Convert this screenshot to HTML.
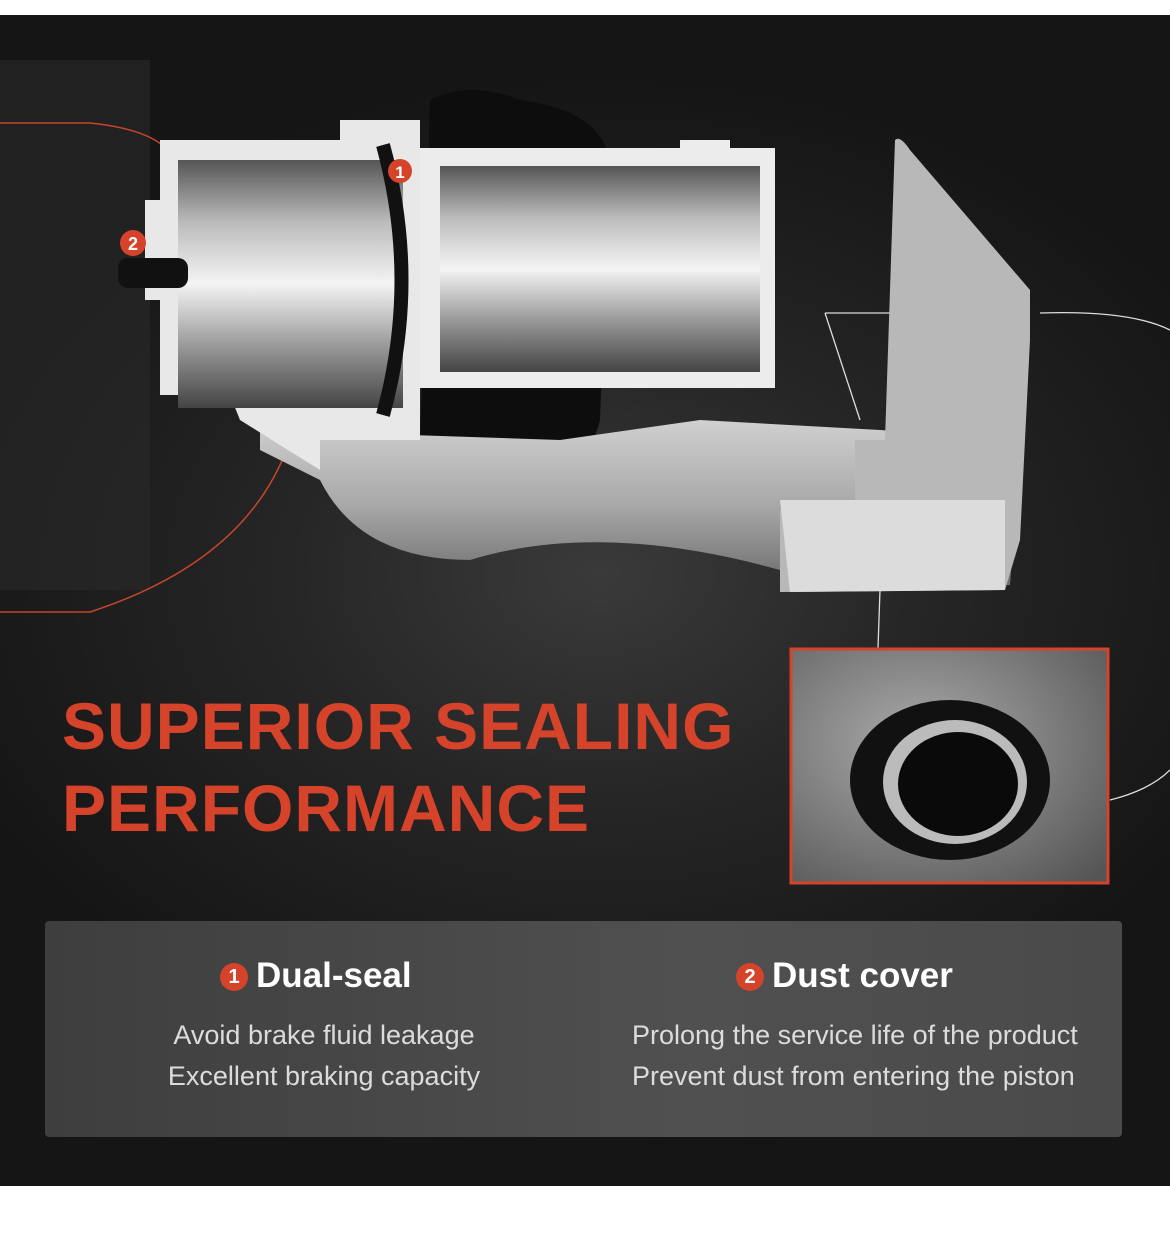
<!DOCTYPE html>
<html><head><meta charset="utf-8"><style>
html,body{margin:0;padding:0;background:#fff;}
#c{position:relative;width:1170px;height:1233px;overflow:hidden;background:#fff;font-family:"Liberation Sans",sans-serif;}
#bg{position:absolute;left:0;top:15px;width:1170px;height:1171px;background:radial-gradient(ellipse 700px 500px at 600px 560px,#3a3a3a 0%,#262626 45%,#151515 100%);}
.t{position:absolute;left:62px;color:#d4432a;font-weight:bold;font-size:66px;letter-spacing:1px;white-space:nowrap;}
#panel{position:absolute;left:45px;top:921px;width:1077px;height:216px;background:linear-gradient(90deg,#3e3e3e,#505050 60%,#4a4a4a);border-radius:4px;}
.h{position:absolute;color:#fff;font-weight:bold;font-size:35px;white-space:nowrap;}
.n{display:inline-block;width:28px;height:28px;border-radius:50%;background:#d4432a;color:#fff;font-size:20px;text-align:center;line-height:28px;vertical-align:4px;margin-right:8px;}
.p{position:absolute;color:#dcdcdc;font-size:27px;white-space:nowrap;text-align:center;}
</style></head><body><div id="c">
<div id="bg"></div>
<svg width="1170" height="1233" style="position:absolute;left:0;top:0">
<defs>
<linearGradient id="cyl" x1="0" y1="0" x2="0" y2="1">
<stop offset="0" stop-color="#555"/><stop offset=".25" stop-color="#bbb"/><stop offset=".5" stop-color="#f4f4f4"/><stop offset=".75" stop-color="#999"/><stop offset="1" stop-color="#444"/></linearGradient>
<linearGradient id="met" x1="0" y1="0" x2="0" y2="1">
<stop offset="0" stop-color="#d0d0d0"/><stop offset=".5" stop-color="#a8a8a8"/><stop offset="1" stop-color="#6a6a6a"/></linearGradient>
<radialGradient id="ins" cx=".4" cy=".4" r=".8"><stop offset="0" stop-color="#aaa"/><stop offset="1" stop-color="#555"/></radialGradient>
</defs>
<rect x="0" y="60" width="150" height="530" fill="#2a2a2a" opacity=".6"/>
<path d="M0 123 L90 123 Q160 130 175 160" fill="none" stroke="#c8452b" stroke-width="1.5"/>
<path d="M0 612 L90 612 Q250 560 290 440" fill="none" stroke="#c8452b" stroke-width="1.5"/>
<path d="M825 313 L1030 313 M1040 313 Q1130 310 1170 330" fill="none" stroke="#ddd" stroke-width="1.3"/>
<path d="M825 313 L860 420" fill="none" stroke="#ddd" stroke-width="1.3"/>
<path d="M880 590 L878 648" stroke="#ddd" stroke-width="1.3"/>
<path d="M1110 800 Q1150 790 1170 770" fill="none" stroke="#ddd" stroke-width="1.3"/>
<path d="M430 100 Q470 80 520 100 Q600 110 610 160 L600 420 Q590 470 520 460 Q460 470 420 440 Z" fill="#0d0d0d"/>
<path d="M260 430 L560 440 L700 420 L880 430 L1020 440 L1010 585 L790 590 L780 570 Q600 520 470 560 Q360 560 320 480 L260 450 Z" fill="url(#met)"/>
<path d="M895 140 Q900 135 910 150 L1030 290 L1030 340 L1020 540 L1005 590 L780 592 L780 510 L855 500 L855 440 L885 440 Z" fill="#b8b8b8"/>
<path d="M780 500 L1005 500 L1005 590 L790 592 Z" fill="#dcdcdc"/>
<path d="M160 140 L340 140 L340 120 L420 120 L420 440 L320 440 L320 470 L240 420 L230 395 L160 395 L160 300 L145 300 L145 200 L160 200 Z" fill="#e8e8e8"/>
<rect x="178" y="160" width="225" height="248" fill="url(#cyl)"/>
<path d="M383 145 Q420 280 383 415" fill="none" stroke="#111" stroke-width="14"/>
<rect x="420" y="148" width="355" height="240" fill="#ececec"/>
<rect x="440" y="166" width="320" height="206" fill="url(#cyl)"/>
<rect x="680" y="140" width="50" height="12" fill="#ececec"/>
<rect x="118" y="258" width="70" height="30" rx="10" fill="#111"/>
<circle cx="400" cy="171" r="12" fill="#d4432a"/><text x="400" y="178" font-size="17" font-weight="bold" fill="#fff" text-anchor="middle" font-family="Liberation Sans">1</text>
<circle cx="133" cy="243" r="13" fill="#d4432a"/><text x="133" y="250" font-size="18" font-weight="bold" fill="#fff" text-anchor="middle" font-family="Liberation Sans">2</text>
<rect x="791" y="649" width="317" height="234" fill="url(#ins)" stroke="#d4432a" stroke-width="3"/>
<ellipse cx="950" cy="780" rx="100" ry="80" fill="#111"/>
<ellipse cx="955" cy="782" rx="72" ry="62" fill="#bbb"/>
<ellipse cx="958" cy="784" rx="60" ry="52" fill="#0a0a0a"/>
<line x1="585" y1="945" x2="585" y2="1113" stroke="#ddd" stroke-width="2" stroke-dasharray="8,7"/>
</svg>
<div class="t" style="top:688px">SUPERIOR SEALING</div>
<div class="t" style="top:770px">PERFORMANCE</div>
<div id="panel"></div>
<div class="h" style="left:220px;top:956px"><span class="n">1</span>Dual-seal</div>
<div class="h" style="left:736px;top:956px"><span class="n">2</span>Dust cover</div>
<div class="p" style="left:144px;top:1020px;width:360px">Avoid brake fluid leakage</div>
<div class="p" style="left:144px;top:1061px;width:360px">Excellent braking capacity</div>
<div class="p" style="left:632px;top:1020px;width:480px;text-align:left">Prolong the service life of the product</div>
<div class="p" style="left:632px;top:1061px;width:480px;text-align:left">Prevent dust from entering the piston</div>
</div></body></html>
